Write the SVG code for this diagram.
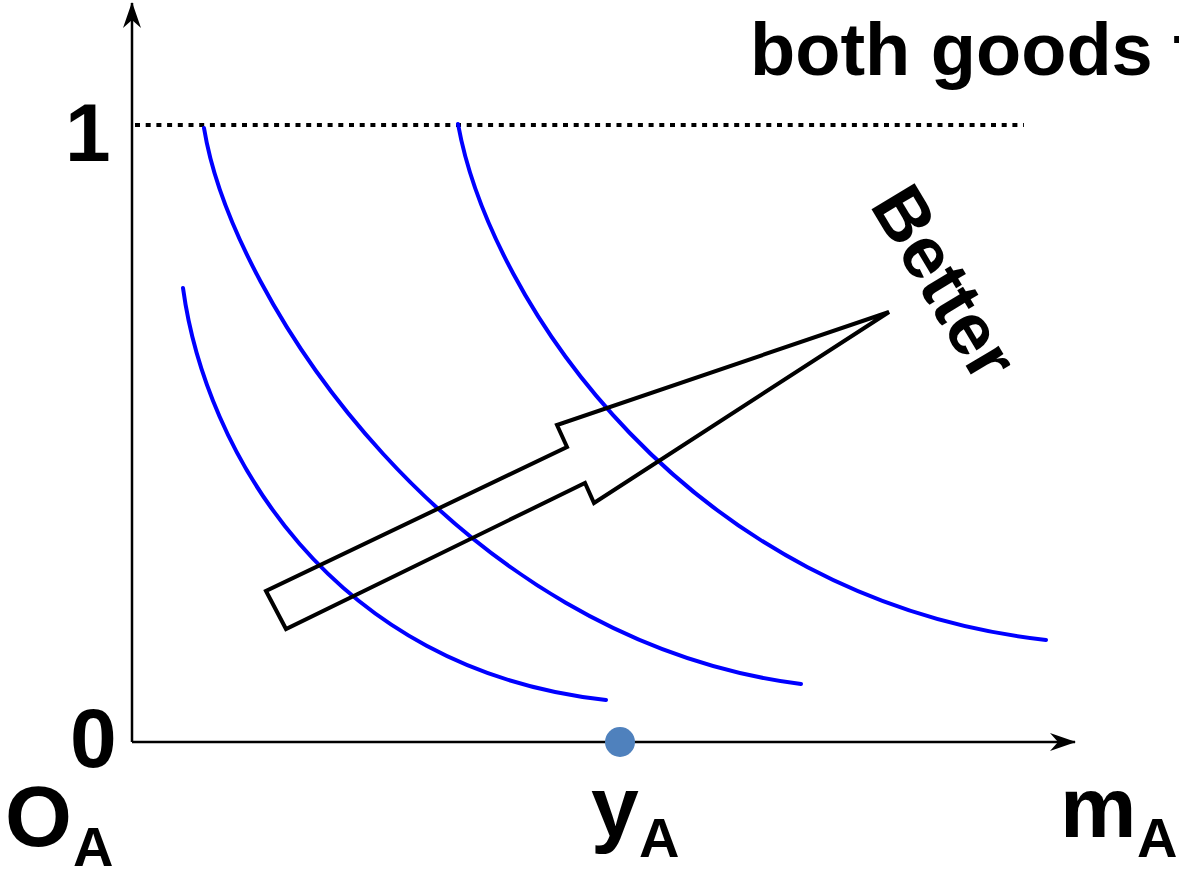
<svg xmlns="http://www.w3.org/2000/svg" width="1179" height="869" viewBox="0 0 1179 869">
<style>
.t{font-family:"Liberation Sans",Arial,sans-serif;font-weight:bold;fill:#000}
.curve{fill:none;stroke:#0000ff;stroke-width:4;stroke-linecap:round}
.axis{stroke:#000;stroke-width:2.5;fill:none}
</style>
<defs>
<marker id="ah" viewBox="0 0 26 18" refX="25" refY="9" markerWidth="26" markerHeight="18" markerUnits="userSpaceOnUse" orient="auto">
<path d="M0,0 L26,9 L0,18 L8,9 Z" fill="#000"/>
</marker>
</defs>
<rect width="1179" height="869" fill="#fff"/>
<g id="connectors">
<line class="axis" x1="132" y1="742" x2="132" y2="3" marker-end="url(#ah)"/>
<line class="axis" x1="132" y1="742" x2="1075" y2="742" marker-end="url(#ah)"/>
<line x1="135" y1="125" x2="1024" y2="125" stroke="#000" stroke-width="4" stroke-dasharray="5 5.7"/>
</g>
<g id="curve1"><path class="curve" d="M183,288 C205,450 330,670 606,700"/></g>
<g id="curve2"><path class="curve" d="M204,128 C232,300 455,640 801,684"/></g>
<g id="curve3"><path class="curve" d="M458,124 C490,300 688,600 1046,640"/></g>
<g id="better-arrow"><polygon points="266,591 286,629 585,483 594,503 889,312 557,425 567,447" fill="none" stroke="#000" stroke-width="4" stroke-linejoin="miter"/></g>
<g id="dot"><circle cx="620" cy="742" r="15" fill="#4f81bd"/></g>
<g id="labels">
<text class="t" x="750" y="75" font-size="74">both goods t</text>
<text class="t" x="65" y="161" font-size="82">1</text>
<text class="t" x="70" y="767" font-size="84">0</text>
<text class="t" x="5" y="846" font-size="86">O<tspan font-size="56" x="73" y="866">A</tspan></text>
<text class="t" x="591" y="836" font-size="86">y<tspan font-size="56" x="639" y="857">A</tspan></text>
<text class="t" x="1060" y="837" font-size="86">m<tspan font-size="56" x="1137" y="857">A</tspan></text>
<text class="t" font-size="73" transform="translate(869,205) rotate(59)">Better</text>
</g>
</svg>
